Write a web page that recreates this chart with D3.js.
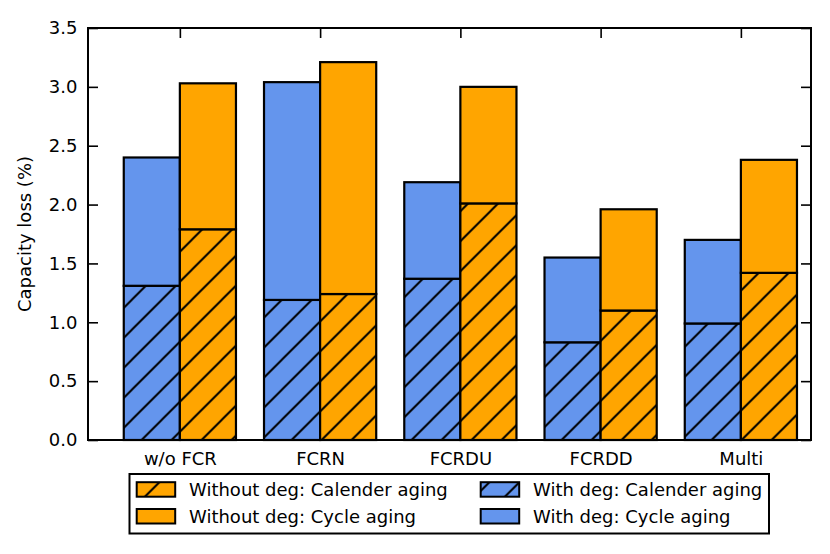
<!DOCTYPE html>
<html>
<head>
<meta charset="utf-8">
<script src="https://cdn.jsdelivr.net/npm/d3@7"></script>
<style>
  body { margin: 0; background: #fff; }
  svg { font-family: "DejaVu Sans", sans-serif; }
</style>
</head>
<body>
<svg id="chart" width="830" height="554"></svg>
<script>
const categories = ["w/o FCR", "FCRN", "FCRDU", "FCRDD", "Multi"];
// with degradation (blue, left bar)
const withCalendar = [1.31, 1.19, 1.37, 0.83, 0.99];
const withCycle = [1.09, 1.85, 0.82, 0.72, 0.71];
// without degradation (orange, right bar)
const withoutCalendar = [1.79, 1.24, 2.01, 1.10, 1.42];
const withoutCycle = [1.24, 1.97, 0.99, 0.86, 0.96];
const yTicks = [0, 0.5, 1.0, 1.5, 2.0, 2.5, 3.0, 3.5];
const legendLabels = [
  "Without deg: Calender aging",
  "Without deg: Cycle aging",
  "With deg: Calender aging",
  "With deg: Cycle aging",
];

const margins = { top: 28, left: 88, right: 19, bottom: 114 };
const width = 830, height = 554;
const fontSize = 18;
const blue = "#6495ED", orange = "#FFA500";
const barWidth = 0.4;

const svg = d3.select("#chart");

const scaleX = d3.scaleLinear()
  .domain([-0.655, 4.5])
  .range([margins.left, width - margins.right]);
const scaleY = d3.scaleLinear()
  .domain([0, 3.5])
  .range([height - margins.bottom, margins.top]);

// hatch pattern, aligned to the page like matplotlib does
const defs = svg.append("defs");
const pat = defs.append("pattern")
  .attr("id", "hatch")
  .attr("patternUnits", "userSpaceOnUse")
  .attr("x", 11.6).attr("y", 0)
  .attr("width", 30).attr("height", 30);
pat.append("path")
  .attr("d", "M0,30L30,0M-5,5L5,-5M25,35L35,25")
  .attr("stroke", "#000")
  .attr("stroke-width", 2)
  .attr("fill", "none");

// build stacked series
const groups = [
  { offset: -barWidth, color: blue, cal: withCalendar, cyc: withCycle },
  { offset: 0, color: orange, cal: withoutCalendar, cyc: withoutCycle },
];

const bars = svg.append("g");
groups.forEach((g) => {
  const rows = categories.map((c, i) => ({ i, cal: g.cal[i], cycle: g.cyc[i] }));
  const stacked = d3.stack().keys(["cal", "cycle"])(rows);
  stacked.forEach((layer) => {
    const sel = bars.selectAll(null)
      .data(layer)
      .enter();
    const place = (s) => s
      .attr("x", (d) => scaleX(d.data.i + g.offset))
      .attr("y", (d) => scaleY(d[1]))
      .attr("width", (d) => scaleX(d.data.i + g.offset + barWidth) - scaleX(d.data.i + g.offset))
      .attr("height", (d) => scaleY(d[0]) - scaleY(d[1]));
    sel.append("rect").call(place).attr("fill", g.color);
    if (layer.key === "cal") {
      sel.append("rect").call(place).attr("fill", "url(#hatch)");
    }
    sel.append("rect").call(place)
      .attr("fill", "none")
      .attr("stroke", "#000")
      .attr("stroke-width", 2.2);
  });
});

// axes
const catIdx = categories.map((c, i) => i);
const yAxis = d3.axisLeft(scaleY).tickValues(yTicks).tickFormat(d3.format(".1f"))
  .tickSizeInner(-10).tickSizeOuter(0).tickPadding(10.5);
const yAxisR = d3.axisRight(scaleY).tickValues(yTicks).tickFormat("")
  .tickSizeInner(-10).tickSizeOuter(0);
const xAxis = d3.axisBottom(scaleX).tickValues(catIdx).tickFormat((i) => categories[i])
  .tickSizeInner(0).tickSizeOuter(0).tickPadding(12.2);
const xAxisT = d3.axisTop(scaleX).tickValues(catIdx).tickFormat("")
  .tickSizeInner(-10).tickSizeOuter(0);

const plotBottom = height - margins.bottom;
const plotRight = width - margins.right;

const axes = [
  svg.append("g").attr("transform", `translate(${margins.left},0)`).call(yAxis),
  svg.append("g").attr("transform", `translate(${plotRight},0)`).call(yAxisR),
  svg.append("g").attr("transform", `translate(0,${plotBottom})`).call(xAxis),
  svg.append("g").attr("transform", `translate(0,${margins.top})`).call(xAxisT),
];
axes.forEach((a) => {
  a.select(".domain").remove();
  a.selectAll("line").attr("stroke", "#000").attr("stroke-width", 1.6);
  a.selectAll("text")
    .attr("fill", "#000")
    .style("font-size", fontSize + "px")
    .style("font-family", "DejaVu Sans");
});

// frame
svg.append("rect")
  .attr("x", margins.left).attr("y", margins.top)
  .attr("width", plotRight - margins.left)
  .attr("height", plotBottom - margins.top)
  .attr("fill", "none")
  .attr("stroke", "#000")
  .attr("stroke-width", 2);

// y label
svg.append("text")
  .attr("transform", `translate(30.7,${(margins.top + plotBottom) / 2}) rotate(-90)`)
  .attr("text-anchor", "middle")
  .style("font-size", fontSize + "px")
  .text("Capacity loss (%)");

// legend
const legendFills = [
  [orange, true], [orange, false], [blue, true], [blue, false],
];
const legend = svg.append("g");
legend.append("rect")
  .attr("x", 129.5).attr("y", 474)
  .attr("width", 639.5).attr("height", 59.5)
  .attr("fill", "#fff")
  .attr("stroke", "#000")
  .attr("stroke-width", 2);
const colX = [136.7, 480.7];
const rowY = [482.2, 509];
legendLabels.forEach((label, k) => {
  const cx = colX[Math.floor(k / 2)];
  const cy = rowY[k % 2];
  const [fill, hatched] = legendFills[k];
  const box = (s) => s.attr("x", cx).attr("y", cy).attr("width", 38.5).attr("height", 14.5);
  legend.append("rect").call(box).attr("fill", fill);
  if (hatched) legend.append("rect").call(box).attr("fill", "url(#hatch)");
  legend.append("rect").call(box)
    .attr("fill", "none").attr("stroke", "#000").attr("stroke-width", 2);
  legend.append("text")
    .attr("x", cx + 52.3)
    .attr("y", cy + 7.25)
    .attr("dy", "0.36em")
    .style("font-size", fontSize + "px")
    .text(label);
});
</script>
</body>
</html>
